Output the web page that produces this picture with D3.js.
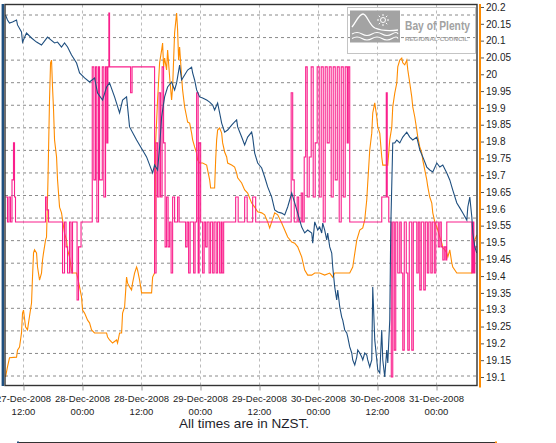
<!DOCTYPE html>
<html>
<head>
<meta charset="utf-8">
<script src="https://cdnjs.cloudflare.com/ajax/libs/d3/7.8.5/d3.min.js"></script>
<style>
  body { margin: 0; background: #fff; }
  svg { display: block; font-family: "Liberation Sans", Arial, sans-serif; }
</style>
</head>
<body>
<svg id="chart" width="556" height="443"></svg>
<script>
// times are hours after 27-Dec-2008 00:00 NZST
const timeStart = 8.235, timeEnd = 104.235;

// left axis (blue) gridline values, right axis (orange) tick values
const leftTicks = d3.range(0, 161, 10);
const rightTicks = d3.range(0, 23).map(i => +(19.1 + i * 0.05).toFixed(2));

// blue series, left axis units
const blueSeries = [[8.34,160.0],[8.74,157.8],[9.15,156.4],[9.76,156.9],[10.58,157.8],[10.78,155.6],[11.59,152.5],[11.80,148.0],[12.61,152.0],[13.63,149.8],[14.65,148.0],[15.66,146.7],[16.88,150.2],[18.31,147.6],[18.92,148.0],[19.73,145.8],[20.34,147.6],[20.96,145.8],[21.77,142.3],[22.79,138.7],[23.40,134.3],[24.42,132.1],[25.43,130.3],[26.45,132.1],[27.06,125.4],[28.08,122.3],[28.89,128.1],[29.50,129.9],[30.52,123.7],[31.54,116.6],[32.15,122.3],[32.96,123.7],[33.57,110.4],[35.00,104.6],[37.03,97.1],[38.26,90.0],[38.66,93.5],[39.27,91.3],[39.68,101.5],[40.09,114.8],[40.70,123.7],[41.31,128.1],[42.12,130.3],[42.73,126.8],[43.14,129.9],[43.75,137.8],[44.16,131.2],[44.77,133.4],[45.38,135.6],[46.19,136.9],[46.40,134.3],[46.80,131.2],[47.21,126.8],[47.82,123.7],[48.43,123.2],[49.25,122.3],[49.86,121.4],[50.47,120.1],[50.87,117.9],[51.48,121.0],[51.89,116.6],[52.30,112.1],[52.91,108.1],[53.52,109.0],[54.33,111.2],[54.94,112.6],[55.35,113.5],[55.56,110.4],[56.37,105.9],[56.98,102.4],[57.59,105.9],[58.40,108.1],[58.61,105.9],[59.02,98.8],[59.63,94.4],[60.44,92.2],[61.05,88.2],[61.66,83.8],[62.48,79.3],[63.09,73.6],[63.70,72.7],[64.51,72.2],[65.12,71.4],[65.73,74.9],[66.55,81.1],[67.16,76.7],[67.77,72.2],[68.58,66.0],[69.19,63.4],[69.80,64.7],[70.62,63.4],[70.82,58.9],[71.23,68.3],[71.84,64.7],[72.24,66.0],[72.65,63.4],[72.86,67.8],[73.26,64.7],[73.67,60.3],[73.87,63.4],[74.28,57.2],[74.69,54.5],[74.89,48.3],[75.30,39.4],[75.70,33.7],[75.91,38.1],[76.32,30.6],[76.72,26.1],[76.93,24.8],[77.33,20.4],[77.74,19.1],[77.94,17.3],[78.35,12.9],[78.76,10.2],[78.96,7.1],[79.37,4.9],[79.78,8.4],[79.98,11.5],[80.39,10.2],[80.79,8.4],[81.00,7.1],[81.40,10.2],[81.81,9.3],[82.01,7.1],[82.42,4.0],[82.83,7.1],[83.03,39.4],[83.44,16.0],[83.85,7.1],[84.05,2.7],[84.46,1.3],[84.86,20.4],[85.07,7.1],[85.47,-0.4],[85.88,11.5],[86.09,5.8],[86.49,24.8],[86.70,66.0],[87.10,103.3],[87.51,103.3],[87.92,104.6],[88.53,103.3],[89.14,105.9],[89.95,108.1],[90.56,105.9],[91.17,104.6],[91.99,105.9],[92.60,100.2],[93.21,97.1],[94.02,92.6],[94.63,91.3],[95.24,90.4],[96.06,94.4],[96.67,92.6],[97.28,93.5],[98.09,90.0],[98.70,86.9],[99.31,82.4],[100.13,76.7],[100.74,74.5],[101.35,72.2],[102.16,69.1],[102.37,74.9],[102.77,79.3],[103.18,70.5],[103.39,63.4],[103.79,57.2],[104.20,54.5]];

// orange series, right axis units
const orangeSeries = [[8.34,19.100],[8.74,19.130],[9.15,19.157],[10.58,19.159],[10.78,19.180],[11.19,19.189],[11.59,19.231],[11.80,19.290],[12.00,19.299],[12.41,19.249],[12.81,19.240],[13.02,19.261],[13.63,19.320],[13.83,19.397],[14.04,19.469],[14.24,19.478],[14.65,19.469],[14.85,19.427],[15.26,19.388],[15.66,19.409],[15.87,19.448],[16.07,19.469],[16.48,19.507],[16.68,19.516],[16.88,19.626],[16.99,19.695],[17.29,19.924],[17.50,20.034],[17.70,20.042],[17.90,19.962],[18.11,19.894],[18.31,19.805],[18.72,19.754],[18.92,19.686],[19.33,19.605],[19.73,19.588],[19.94,19.567],[20.34,19.528],[20.75,19.507],[20.96,19.478],[21.36,19.457],[21.77,19.418],[21.97,19.409],[22.79,19.409],[22.99,19.397],[23.40,19.368],[23.80,19.338],[24.01,19.299],[24.42,19.290],[25.03,19.269],[25.43,19.261],[25.84,19.240],[26.45,19.231],[28.89,19.231],[29.10,19.219],[29.50,19.210],[30.11,19.201],[30.93,19.210],[31.13,19.201],[31.54,19.231],[31.95,19.231],[32.15,19.290],[32.56,19.308],[32.96,19.397],[33.17,19.379],[33.57,19.368],[33.98,19.359],[34.18,19.379],[34.59,19.409],[35.00,19.427],[35.20,19.418],[35.61,19.388],[36.02,19.350],[38.05,19.350],[38.26,19.397],[38.66,19.409],[38.87,19.796],[39.27,19.924],[39.68,20.034],[40.09,20.072],[40.29,20.093],[40.49,20.022],[40.70,20.048],[41.10,20.013],[41.31,20.072],[41.72,19.992],[42.12,19.924],[42.33,19.962],[42.73,20.123],[43.14,20.182],[43.34,20.132],[43.55,20.042],[43.75,20.081],[44.16,19.992],[44.36,19.953],[44.77,19.903],[45.18,19.873],[45.38,19.858],[45.79,19.855],[46.19,19.825],[46.40,19.805],[46.80,19.784],[47.21,19.766],[47.41,19.745],[47.82,19.736],[48.43,19.736],[49.25,19.730],[49.45,19.715],[49.86,19.686],[50.06,19.662],[50.87,19.662],[51.08,19.745],[51.28,19.805],[51.48,19.834],[51.89,19.840],[52.30,19.825],[52.50,19.796],[52.91,19.769],[53.32,19.754],[53.52,19.736],[54.33,19.730],[54.94,19.724],[55.35,19.706],[55.56,19.692],[56.37,19.677],[56.98,19.656],[57.59,19.647],[58.40,19.617],[59.02,19.605],[59.63,19.591],[60.44,19.588],[61.05,19.582],[61.66,19.561],[62.07,19.543],[62.48,19.561],[63.09,19.588],[63.70,19.582],[64.51,19.558],[65.12,19.537],[65.73,19.516],[66.55,19.501],[67.16,19.498],[67.77,19.487],[68.58,19.457],[69.19,19.418],[69.80,19.403],[70.62,19.403],[71.23,19.409],[72.24,19.409],[73.26,19.403],[74.28,19.409],[74.89,19.397],[75.30,19.409],[78.35,19.409],[78.96,19.427],[79.78,19.507],[80.39,19.537],[81.00,19.543],[81.40,19.567],[81.81,19.626],[82.01,19.677],[82.42,19.775],[82.83,19.825],[83.03,19.885],[83.44,19.915],[83.85,19.873],[84.05,19.843],[84.46,19.825],[84.86,19.754],[85.07,19.730],[86.08,19.730],[86.49,19.805],[86.90,19.843],[87.10,19.903],[87.51,19.944],[87.92,19.974],[88.12,20.022],[88.53,20.042],[88.93,20.048],[89.14,20.034],[89.54,20.028],[89.95,20.042],[90.16,20.013],[90.56,19.974],[90.97,19.932],[91.17,19.903],[91.58,19.873],[91.99,19.834],[92.19,19.813],[92.60,19.784],[93.00,19.766],[93.21,19.745],[93.62,19.715],[94.02,19.686],[94.23,19.665],[94.63,19.635],[95.04,19.617],[95.24,19.588],[95.65,19.561],[96.06,19.546],[96.26,19.537],[96.67,19.516],[97.08,19.498],[97.28,19.484],[97.69,19.478],[98.09,19.469],[98.30,19.457],[98.70,19.478],[99.11,19.439],[99.31,19.427],[100.13,19.409],[103.18,19.409],[103.38,19.427],[103.59,19.478],[103.79,19.507],[104.20,19.522]];

// pink series (stepped), right axis units
const pinkSeries = [[8.34,19.635],[8.74,19.561],[9.05,19.635],[9.35,19.561],[9.66,19.686],[9.96,19.796],[10.17,19.635],[10.37,19.561],
  [16.48,19.635],[16.78,19.597],[17.09,19.561],
  [19.94,19.409],[20.34,19.561],[20.65,19.487],[20.96,19.409],[21.36,19.561],[21.67,19.409],[21.97,19.561],[22.89,19.329],[23.19,19.487],[23.70,19.561],
  [25.98,20.022],[26.31,19.686],[26.65,20.022],[26.92,19.561],[27.26,20.022],[27.47,19.686],[28.02,20.022],[28.34,19.635],[28.69,20.022],[28.95,19.796],[29.16,20.022],[29.36,20.182],[29.50,20.022],[33.78,19.945],[34.08,20.022],
  [38.66,19.409],[38.97,19.796],[39.27,19.635],[39.58,19.945],[39.88,19.635],[40.19,20.022],[40.49,19.796],[40.80,19.487],[41.10,19.635],[41.41,19.487],[41.72,19.561],[42.02,19.409],[42.33,19.635],[42.73,19.561],[43.34,19.635],[43.65,19.561],[44.97,19.487],[45.28,19.561],[45.58,19.409],[45.89,19.561],[46.60,19.409],[46.90,19.561],[47.21,19.945],[47.52,19.409],[47.72,19.796],[48.03,19.561],[48.43,19.409],[48.74,19.561],[49.04,19.487],[49.35,19.561],[49.75,19.409],[50.06,19.561],[50.47,19.409],[50.77,19.561],[51.18,19.409],[51.48,19.561],[51.89,19.409],[52.20,19.561],[52.40,19.409],[52.71,19.561],
  [55.15,19.635],[55.66,19.561],[56.98,19.635],[57.49,19.561],[58.61,19.635],[59.22,19.561],
  [66.44,19.945],[66.75,19.686],[67.06,19.561],[67.66,19.635],[67.97,19.561],[68.48,19.647],[68.78,19.561],[69.09,19.754],[69.39,20.022],[69.70,19.635],[70.11,19.754],[70.51,20.022],[70.92,19.635],[71.33,19.796],[71.73,20.022],[72.14,19.635],[72.55,20.022],[72.96,19.561],[73.36,20.022],[73.77,19.796],[74.18,20.022],[74.58,19.635],[74.99,20.022],[75.40,19.686],[75.81,20.022],[76.21,19.561],[76.62,20.022],[77.03,19.635],[77.43,20.022],[77.84,19.796],[78.05,20.022],[78.35,19.561],
  [84.86,19.635],[85.78,19.945],[85.98,19.635],[86.29,19.561],[86.80,19.100],[87.10,19.561],[87.41,19.180],[87.71,19.561],[88.12,19.409],[88.53,19.561],[88.83,19.409],[89.14,19.180],[89.44,19.561],[89.85,19.409],[90.16,19.180],[90.46,19.561],[90.97,19.180],[91.28,19.561],[91.99,19.409],[92.29,19.561],[92.60,19.359],[92.90,19.561],[93.41,19.359],[93.72,19.561],[94.13,19.409],[94.43,19.561],[94.84,19.409],[95.14,19.561],[95.55,19.409],[95.85,19.561],[96.36,19.487],[96.67,19.561],[96.97,19.487],[97.28,19.448],[97.58,19.487],[97.89,19.448],[98.09,19.561],
  [103.18,19.409],[103.38,19.561],[103.59,19.409],[103.79,19.487],[104.20,19.487]];

const blueColor = '#1f4f7f', orangeColor = '#ff8c00', pinkColor = '#fa1f8c';

const base = new Date(2008, 11, 27);
const toDate = h => new Date(base.getTime() + h * 3600e3);

const svg = d3.select('#chart');
const plotL = 5, plotR = 477, plotT = 4.5, plotB = 385.5;

const x = d3.scaleTime().domain([toDate(timeStart), toDate(timeEnd)]).range([plotL, plotR]);
const yL = d3.scaleLinear().domain([0, 160]).range([376, 15]);
const yR = d3.scaleLinear().domain([19.1, 20.2]).range([377, 7]);
const timeTicks = x.ticks(d3.timeHour.every(12));

// grid
svg.append('g').selectAll('line').data(leftTicks).join('line')
    .attr('x1', plotL).attr('x2', plotR)
    .attr('y1', d => yL(d)).attr('y2', d => yL(d))
    .attr('stroke', '#8a8a8a').attr('stroke-dasharray', '3,3');
svg.append('g').selectAll('line').data(timeTicks).join('line')
    .attr('x1', d => x(d)).attr('x2', d => x(d))
    .attr('y1', plotT).attr('y2', plotB)
    .attr('stroke', '#bbb').attr('stroke-dasharray', '3,3');

// logo box, top right
const logo = svg.append('g');
logo.append('rect').attr('x', 347.5).attr('y', 7.5).attr('width', 128).attr('height', 46)
    .attr('fill', 'none').attr('stroke', '#c4c4c4');
logo.append('rect').attr('x', 350).attr('y', 10.5).attr('width', 50).attr('height', 32).attr('fill', '#a3a3a3');
logo.append('path').attr('d', 'M352,27 C356,22 359,14 363,14 C367,14 369,25 375,28 C382,31 390,31 398,30')
    .attr('fill', 'none').attr('stroke', '#fff').attr('stroke-width', 1.3);
logo.append('path').attr('d', 'M352,34 q5,-3 10,0 t10,0 t10,0 t10,0 t6,0 M352,38.5 q5,-3 10,0 t10,0 t10,0 t10,0 t6,0')
    .attr('fill', 'none').attr('stroke', '#fff').attr('stroke-width', 1.1);
logo.append('circle').attr('cx', 383).attr('cy', 20).attr('r', 2.5).attr('fill', 'none').attr('stroke', '#fff');
logo.append('g').selectAll('line').data(d3.range(8)).join('line')
    .attr('x1', d => 383 + 4 * Math.cos(d * Math.PI / 4)).attr('y1', d => 20 + 4 * Math.sin(d * Math.PI / 4))
    .attr('x2', d => 383 + 6 * Math.cos(d * Math.PI / 4)).attr('y2', d => 20 + 6 * Math.sin(d * Math.PI / 4))
    .attr('stroke', '#fff').attr('stroke-width', 1);
logo.append('text').attr('x', 405).attr('y', 29.5).attr('font-size', 12.5).attr('font-weight', 'bold')
    .attr('fill', '#a2a2a2').attr('textLength', 65).attr('lengthAdjust', 'spacingAndGlyphs').text('Bay of Plenty');
logo.append('text').attr('x', 405).attr('y', 41).attr('font-size', 6).attr('font-weight', 'bold')
    .attr('fill', '#a2a2a2').attr('textLength', 63).attr('lengthAdjust', 'spacingAndGlyphs').text('REGIONAL·COUNCIL');

// series
svg.append('clipPath').attr('id', 'plotClip').append('rect')
    .attr('x', plotL).attr('y', plotT).attr('width', plotR - plotL).attr('height', plotB - plotT);
const series = svg.append('g').attr('clip-path', 'url(#plotClip)');

const lineR = d3.line().x(d => x(toDate(d[0]))).y(d => yR(d[1]));
const lineL = d3.line().x(d => x(toDate(d[0]))).y(d => yL(d[1]));

series.append('path').datum(orangeSeries).attr('d', lineR)
    .attr('fill', 'none').attr('stroke', orangeColor).attr('stroke-width', 1.1);
series.append('path').datum(pinkSeries).attr('d', lineR.curve(d3.curveStepAfter))
    .attr('fill', 'none').attr('stroke', pinkColor).attr('stroke-width', 1.1);
series.append('path').datum(blueSeries).attr('d', lineL)
    .attr('fill', 'none').attr('stroke', blueColor).attr('stroke-width', 1.1);

// frame
svg.append('rect').attr('x', plotL).attr('y', plotT).attr('width', plotR - plotL).attr('height', plotB - plotT)
    .attr('fill', 'none').attr('stroke', '#333').attr('stroke-width', 1.4);

// left axis (labels are off the picture)
svg.append('line').attr('x1', 2.8).attr('x2', 2.8).attr('y1', plotT - 0.5).attr('y2', plotB + 0.5)
    .attr('stroke', blueColor).attr('stroke-width', 2.4);

// right axis
const rAxis = svg.append('g').attr('transform', 'translate(480,0)')
    .call(d3.axisRight(yR).tickValues(rightTicks).tickSize(4).tickPadding(2).tickFormat(d => d));
rAxis.select('.domain').remove();
rAxis.selectAll('.tick line').attr('stroke', '#555');
rAxis.selectAll('.tick text').attr('font-size', 10).attr('fill', '#222')
    .attr('font-family', '"Liberation Sans", Arial, sans-serif');
svg.append('line').attr('x1', 480).attr('x2', 480).attr('y1', plotT - 0.5).attr('y2', plotB + 2)
    .attr('stroke', orangeColor).attr('stroke-width', 2);

// time axis, two line labels
const fmtDay = d3.timeFormat('%d-%b-%Y'), fmtTime = d3.timeFormat('%H:%M');
const xAxis = svg.append('g').attr('transform', `translate(0,${plotB})`)
    .call(d3.axisBottom(x).tickValues(timeTicks).tickSize(5).tickFormat(''));
xAxis.select('.domain').remove();
xAxis.selectAll('.tick line').attr('stroke', '#999');
const tickLabels = svg.append('g').attr('font-size', 9.5).attr('fill', '#222').attr('text-anchor', 'middle');
tickLabels.selectAll('text.day').data(timeTicks).join('text').attr('class', 'day')
    .attr('x', d => x(d)).attr('y', 402).text(d => fmtDay(d));
tickLabels.selectAll('text.hour').data(timeTicks).join('text').attr('class', 'hour')
    .attr('x', d => x(d)).attr('y', 414.5).text(d => fmtTime(d));

svg.append('text').attr('x', 244).attr('y', 427.5).attr('text-anchor', 'middle')
    .attr('font-size', 13.5).attr('fill', '#1e1e2a').text('All times are in NZST.');

// top edge of the legend box, cut off by the picture
svg.append('line').attr('x1', 19).attr('x2', 495).attr('y1', 442.5).attr('y2', 442.5)
    .attr('stroke', '#333');
svg.append('line').attr('x1', 17).attr('x2', 19).attr('y1', 442.5).attr('y2', 442.5)
    .attr('stroke', blueColor).attr('stroke-width', 2);
svg.append('line').attr('x1', 495).attr('x2', 497).attr('y1', 442.5).attr('y2', 442.5)
    .attr('stroke', orangeColor).attr('stroke-width', 2);
</script>
</body>
</html>
